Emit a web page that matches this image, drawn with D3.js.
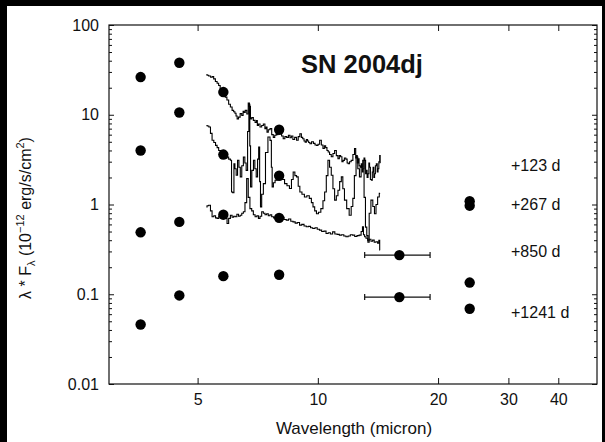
<!DOCTYPE html>
<html>
<head>
<meta charset="utf-8">
<script src="https://cdn.jsdelivr.net/npm/d3@7"></script>
<style>
  html, body { margin: 0; padding: 0; background: #000; }
  svg { display: block; }
  text { font-family: "Liberation Sans", Arial, sans-serif; fill: #111; }
</style>
</head>
<body>
<script>
// frame size and plot margins
const WIDTH = 605;
const HEIGHT = 442;
const MARG = {left : 109, right : 8, top : 25, bottom : 58};
const VIS_WIDTH = WIDTH - MARG.left - MARG.right;
const VIS_HEIGHT = HEIGHT - MARG.top - MARG.bottom;

// photometry bands (micron)
const WAVE = [3.6, 4.5, 5.8, 8.0, 16, 24];
// lambda*F_lambda per epoch, null = no point
const EP_123 = [26.3, 38, 17.9, 6.8, null, 1.09];
const EP_267 = [4.0, 10.6, 3.6, 2.09, null, 0.97];
const EP_850 = [0.49, 0.64, 0.77, 0.71, 0.273, 0.135];
const EP_1241 = [0.046, 0.097, 0.159, 0.165, 0.093, 0.069];
// horizontal error bar of the 16 micron band
const ERR_16 = [13.1, 19.1];

const EPOCH_LABELS = ["+123 d", "+267 d", "+850 d", "+1241 d"];
const EPOCH_LABEL_Y = [2.75, 1.0, 0.3, 0.062];   // value at which each label sits

// IRS spectra [wavelength, lambda*F_lambda]
const SPEC_TOP = [[5.26,28.0],[5.30,27.5],[5.36,27.0],[5.42,26.2],[5.46,26.6],[5.51,25.1],[5.57,23.5],
  [5.62,22.4],[5.67,21.2],[5.72,19.6],[5.78,18.8],[5.84,17.8],[5.89,15.7],[5.95,14.6],[6.01,13.1],
  [6.07,12.2],[6.13,11.2],[6.18,10.8],[6.22,10.4],[6.26,9.7],[6.30,9.0],[6.36,9.4],[6.42,10.3],
  [6.48,9.8],[6.52,10.9],[6.55,10.6],[6.61,11.2],[6.67,10.2],[6.72,13.5],[6.76,12.4],[6.80,9.0],
  [6.86,9.3],[6.93,8.65],[7.00,8.2],[7.04,8.6],[7.07,7.6],[7.13,7.9],[7.20,7.3],[7.27,7.6],[7.34,7.9],
  [7.40,7.0],[7.44,7.3],[7.48,6.4],[7.55,6.8],[7.63,7.0],[7.70,6.0],[7.77,5.6],[7.83,5.9],[7.90,6.0],
  [7.98,6.4],[8.08,6.7],[8.15,5.8],[8.23,5.4],[8.31,5.7],[8.40,5.6],[8.48,5.9],[8.55,5.55],[8.62,5.8],
  [8.70,5.3],[8.80,5.6],[8.89,5.2],[8.97,5.7],[9.06,6.15],[9.13,5.6],[9.20,5.4],[9.27,5.1],[9.32,4.96],
  [9.40,5.3],[9.45,5.1],[9.52,4.9],[9.59,4.76],[9.70,5.0],[9.80,4.8],[9.88,4.6],[9.97,4.56],[10.05,4.7],
  [10.16,5.2],[10.25,4.6],[10.35,4.2],[10.42,4.5],[10.50,4.3],[10.58,4.0],[10.65,3.84],[10.75,3.6],
  [10.86,3.4],[10.96,3.7],[11.07,4.0],[11.18,3.5],[11.28,3.24],[11.36,3.5],[11.45,3.4],[11.53,3.0],
  [11.61,3.1],[11.70,3.3],[11.80,3.2],[11.88,2.9],[11.95,2.85],[12.06,3.0],[12.18,3.1],[12.30,3.6],
  [12.41,4.2],[12.47,3.3],[12.52,3.5],[12.58,2.9],[12.65,3.24],[12.72,2.7],[12.80,2.6],[12.89,2.85],
  [12.95,2.3],[13.02,2.5],[13.08,3.3],[13.14,3.1],[13.20,2.2],[13.25,2.4],[13.32,2.0],[13.39,2.2],
  [13.45,2.9],[13.50,2.6],[13.58,1.9],[13.66,1.86],[13.72,2.3],[13.78,2.6],[13.84,2.0],[13.90,2.2],
  [13.97,2.7],[14.05,2.85],[14.12,2.3],[14.18,2.5],[14.25,3.0],[14.32,3.5],[14.33,2.9]];
const SPEC_MID = [[5.26,7.6],[5.31,7.5],[5.36,7.3],[5.41,6.2],[5.46,5.2],[5.52,4.9],[5.57,4.56],
  [5.62,4.3],[5.67,4.0],[5.75,3.8],[5.84,3.53],[5.90,3.3],[5.95,3.38],[6.01,3.2],[6.07,3.11],
  [6.09,1.38],[6.15,1.35],[6.18,2.85],[6.22,2.5],[6.27,2.12],[6.32,3.11],[6.37,2.6],[6.42,2.03],
  [6.48,2.7],[6.54,3.38],[6.59,2.9],[6.64,2.4],[6.70,6.5],[6.74,13.1],[6.77,4.5],[6.80,1.57],
  [6.87,2.4],[6.93,3.11],[6.98,2.5],[7.04,2.03],[7.09,3.2],[7.13,4.37],[7.17,1.8],[7.20,0.94],
  [7.27,1.3],[7.34,1.71],[7.45,3.8],[7.55,5.64],[7.63,5.18],[7.67,2.6],[7.70,1.57],[7.78,1.75],
  [7.85,1.86],[7.95,2.2],[8.08,2.03],[8.20,1.9],[8.31,1.71],[8.43,1.62],[8.55,1.51],[8.63,1.9],
  [8.72,2.3],[8.80,2.1],[8.89,2.03],[8.97,1.6],[9.06,1.38],[9.19,1.3],[9.32,1.21],[9.45,1.25],
  [9.59,1.17],[9.68,1.05],[9.77,0.94],[9.87,0.85],[9.97,0.79],[10.10,0.82],[10.25,0.9],[10.35,1.1],
  [10.45,1.38],[10.55,2.1],[10.65,3.11],[10.75,2.6],[10.86,2.12],[10.96,1.5],[11.07,1.12],
  [11.18,1.25],[11.28,1.44],[11.40,1.8],[11.50,2.03],[11.60,1.5],[11.72,1.12],[11.90,0.9],
  [12.06,0.76],[12.18,0.95],[12.29,1.17],[12.40,2.1],[12.53,3.38],[12.65,2.5],[12.77,2.03],
  [12.90,2.6],[13.01,3.11],[13.10,1.2],[13.22,0.56],[13.30,0.45],[13.39,0.38],[13.50,0.8],
  [13.66,1.12],[13.80,0.95],[13.92,0.79],[14.05,1.0],[14.18,1.21],[14.32,1.33]];
const SPEC_LOW = [[5.26,0.94],[5.30,0.97],[5.36,0.98],[5.41,0.85],[5.46,0.73],[5.52,0.75],[5.57,0.71],
  [5.62,0.70],[5.68,0.74],[5.74,0.72],[5.80,0.77],[5.84,0.76],[5.90,0.70],[5.95,0.615],[6.01,0.70],
  [6.07,0.76],[6.13,0.72],[6.18,0.74],[6.24,0.73],[6.30,0.78],[6.36,0.74],[6.42,0.76],[6.48,0.80],
  [6.54,0.83],[6.60,1.05],[6.67,1.94],[6.72,1.2],[6.80,0.90],[6.86,0.85],[6.93,0.77],[7.00,0.73],
  [7.07,0.75],[7.13,0.70],[7.20,0.74],[7.27,0.83],[7.34,0.80],[7.41,0.77],[7.48,0.79],[7.55,0.75],
  [7.63,0.77],[7.70,0.73],[7.80,0.71],[7.90,0.74],[8.00,0.72],[8.08,0.70],[8.18,0.72],[8.28,0.68],
  [8.39,0.67],[8.50,0.69],[8.61,0.65],[8.72,0.64],[8.83,0.62],[8.94,0.63],[9.06,0.589],[9.17,0.60],
  [9.30,0.575],[9.41,0.564],[9.53,0.57],[9.65,0.55],[9.77,0.541],[9.90,0.55],[10.03,0.53],
  [10.16,0.518],[10.29,0.50],[10.42,0.505],[10.55,0.476],[10.68,0.485],[10.82,0.47],[10.96,0.496],
  [11.10,0.47],[11.25,0.465],[11.39,0.456],[11.54,0.46],[11.69,0.445],[11.83,0.437],[11.98,0.445],
  [12.14,0.46],[12.29,0.456],[12.45,0.44],[12.61,0.45],[12.77,0.456],[12.90,0.50],[12.97,0.564],
  [13.05,0.46],[13.14,0.437],[13.26,0.42],[13.39,0.401],[13.52,0.41],[13.65,0.39],[13.78,0.401],
  [13.90,0.38],[14.05,0.384],[14.18,0.37],[14.25,0.40],[14.32,0.311]];

const X_TICKS = [5, 10, 20, 30, 40];
const Y_TICKS = [0.01, 0.1, 1, 10, 100];
const Y_TICK_LABELS = ["0.01", "0.1", "1", "10", "100"];

const X_SCALE = d3.scaleLog().domain([3, 50]).range([MARG.left, MARG.left + VIS_WIDTH]);
const Y_SCALE = d3.scaleLog().domain([0.01, 100]).range([MARG.top + VIS_HEIGHT, MARG.top]);

// minor ticks 2..9 of every decade
let yMinor = [];
for (let p = 0.01; p < 100; p *= 10) {
  for (let k = 2; k <= 9; k++) yMinor.push(p * k);
}

const FRAME = d3.select("body")
  .append("svg")
    .attr("width", WIDTH)
    .attr("height", HEIGHT);

// white page inside the black border
FRAME.append("rect")
  .attr("x", 7).attr("y", 6)
  .attr("width", WIDTH - 10).attr("height", HEIGHT - 6)
  .attr("fill", "#fff");

// axes: ticks point inward
function styleAxis(g) {
  g.select(".domain").remove();
  g.selectAll("line").attr("stroke", "#111");
  g.selectAll("text").attr("font-size", "16px").attr("fill", "#111")
    .attr("font-family", "Liberation Sans, Arial, sans-serif");
}

FRAME.append("g")
  .attr("transform", "translate(0," + (MARG.top + VIS_HEIGHT) + ")")
  .call(d3.axisBottom(X_SCALE).tickValues(X_TICKS).tickFormat(d3.format("d"))
    .tickSizeInner(-6).tickSizeOuter(0).tickPadding(10))
  .call(styleAxis);
FRAME.append("g")
  .attr("transform", "translate(0," + MARG.top + ")")
  .call(d3.axisTop(X_SCALE).tickValues(X_TICKS).tickFormat("")
    .tickSizeInner(-6).tickSizeOuter(0))
  .call(styleAxis);

FRAME.append("g")
  .attr("transform", "translate(" + MARG.left + ",0)")
  .call(d3.axisLeft(Y_SCALE).tickValues(Y_TICKS)
    .tickFormat((d, i) => Y_TICK_LABELS[i])
    .tickSizeInner(-5).tickSizeOuter(0).tickPadding(10))
  .call(styleAxis);
FRAME.append("g")
  .attr("transform", "translate(" + MARG.left + ",0)")
  .call(d3.axisLeft(Y_SCALE).tickValues(yMinor).tickFormat("").tickSizeInner(-3).tickSizeOuter(0))
  .call(styleAxis);
FRAME.append("g")
  .attr("transform", "translate(" + (MARG.left + VIS_WIDTH) + ",0)")
  .call(d3.axisRight(Y_SCALE).tickValues(Y_TICKS).tickFormat("").tickSizeInner(-5).tickSizeOuter(0))
  .call(styleAxis);
FRAME.append("g")
  .attr("transform", "translate(" + (MARG.left + VIS_WIDTH) + ",0)")
  .call(d3.axisRight(Y_SCALE).tickValues(yMinor).tickFormat("").tickSizeInner(-3).tickSizeOuter(0))
  .call(styleAxis);

// plot frame
FRAME.append("rect")
  .attr("x", MARG.left).attr("y", MARG.top)
  .attr("width", VIS_WIDTH).attr("height", VIS_HEIGHT)
  .attr("fill", "none").attr("stroke", "#111").attr("stroke-width", 1.2);

// spectra
const line = d3.line()
  .x((d) => X_SCALE(d[0]))
  .y((d) => Y_SCALE(d[1]))
  .curve(d3.curveStep);
[SPEC_TOP, SPEC_MID, SPEC_LOW].forEach((s) => {
  FRAME.append("path")
    .attr("d", line(s))
    .attr("fill", "none")
    .attr("stroke", "#000")
    .attr("stroke-width", 1.1);
});

// error bars at 16 micron
[EP_850[4], EP_1241[4]].forEach((v) => {
  let y = Y_SCALE(v);
  FRAME.append("line")
    .attr("x1", X_SCALE(ERR_16[0])).attr("x2", X_SCALE(ERR_16[1]))
    .attr("y1", y).attr("y2", y)
    .attr("stroke", "#111").attr("stroke-width", 1.2);
  ERR_16.forEach((e) => {
    FRAME.append("line")
      .attr("x1", X_SCALE(e)).attr("x2", X_SCALE(e))
      .attr("y1", y - 3).attr("y2", y + 3)
      .attr("stroke", "#111").attr("stroke-width", 1.2);
  });
});

// photometry points
let pts = [];
[EP_123, EP_267, EP_850, EP_1241].forEach((ep) => {
  ep.forEach((v, i) => { if (v != null) pts.push({x : WAVE[i], y : v}); });
});
FRAME.selectAll("circle.pt")
  .data(pts)
  .enter()
  .append("circle")
    .attr("class", "pt")
    .attr("cx", (d) => X_SCALE(d.x))
    .attr("cy", (d) => Y_SCALE(d.y))
    .attr("r", 5.2)
    .attr("fill", "#000");

// epoch labels
FRAME.selectAll("text.ep")
  .data(EPOCH_LABELS)
  .enter()
  .append("text")
    .attr("class", "ep")
    .attr("x", 511)
    .attr("y", (d, i) => Y_SCALE(EPOCH_LABEL_Y[i]))
    .attr("dy", "0.35em")
    .attr("font-size", "16px")
    .text((d) => d);

// title
FRAME.append("text")
  .attr("x", 362).attr("y", 73)
  .attr("text-anchor", "middle")
  .attr("font-size", "25.5px")
  .attr("font-weight", "bold")
  .text("SN 2004dj");

// x label
FRAME.append("text")
  .attr("x", 354).attr("y", 434)
  .attr("text-anchor", "middle")
  .attr("font-size", "17px")
  .text("Wavelength (micron)");

// y label
let yl = FRAME.append("text")
  .attr("transform", "translate(31,218) rotate(-90)")
  .attr("text-anchor", "middle")
  .attr("font-size", "16px");
yl.append("tspan").text("\u03bb * F");
yl.append("tspan").attr("font-size", "11px").attr("dy", 4).text("\u03bb");
yl.append("tspan").attr("dy", -4).text(" (10");
yl.append("tspan").attr("font-size", "11px").attr("dy", -7).text("\u221212");
yl.append("tspan").attr("dy", 7).text(" erg/s/cm");
yl.append("tspan").attr("font-size", "11px").attr("dy", -7).text("2");
yl.append("tspan").attr("dy", 7).text(")");
</script>
</body>
</html>
